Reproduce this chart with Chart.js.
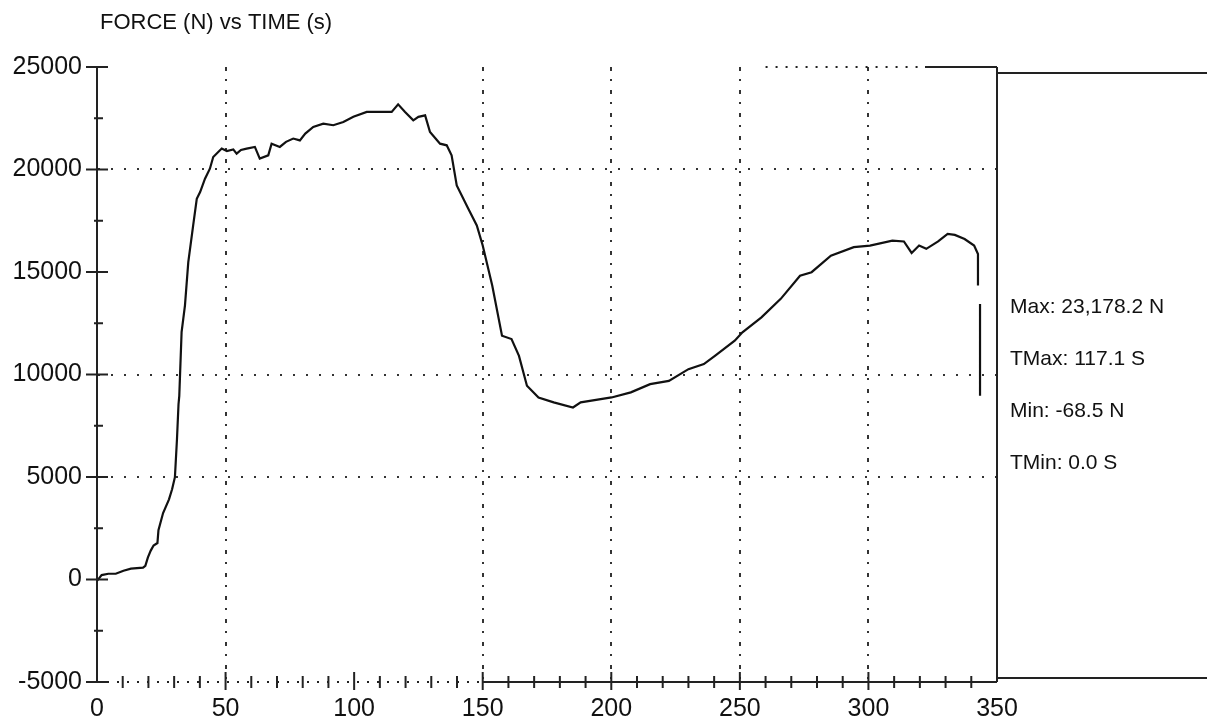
<!DOCTYPE html>
<html>
<head>
<meta charset="utf-8">
<script src="https://cdn.jsdelivr.net/npm/chart.js@4.4.0/dist/chart.umd.min.js"></script>
<style>
  html, body { margin: 0; padding: 0; background: #fff; }
</style>
</head>
<body>
<canvas id="grafico" width="1207" height="724"></canvas>
<script>
// valores
const tempos = [0, 1.8, 4.4, 7.3, 10.3, 13.2, 17.9, 18.8, 19.8, 20.9, 22.0, 23.5, 23.9, 25.7, 28.0,
  29.2, 30.3, 31.1, 31.7, 32.0, 32.9, 34.2, 35.5, 37.4, 38.8, 40.1, 42.0, 43.9, 45.2, 48.5,
  50.5, 53.0, 54.3, 56.0, 58.2, 61.4, 63.3, 66.6, 67.9, 71.1, 73.5, 76.3, 78.9, 81.0, 84.1,
  88.0, 91.9, 95.8, 99.7, 104.9, 110.1, 114.6, 117.1, 119.8, 123.0, 125.0, 127.6, 129.5, 133.4,
  136.0, 137.9, 139.9, 144.4, 147.7, 150.0, 153.7, 157.5, 161.2, 164.1, 167.2, 171.7, 177.6,
  185.1, 188.1, 200.1, 207.6, 215.1, 222.4, 230.0, 236.0, 240.3, 248.0, 251.0, 258.4, 265.9,
  273.4, 277.9, 285.4, 294.3, 300.6, 309.3, 313.8, 316.8, 319.7, 322.5, 327.1, 330.8, 333.6,
  337.4, 341.1, 342.6, 342.6, 343.0, 343.4, 343.4];
const forcas = [-68, 215, 280, 280, 430, 530, 580, 665, 1080, 1410, 1660, 1780, 2410, 3240, 3910,
  4400, 4990, 6840, 8550, 8960, 12070, 13360, 15480, 17270, 18570, 18900, 19550, 20040, 20610, 21020,
  20900, 20980, 20770, 20950, 21020, 21100, 20530, 20690, 21260, 21100, 21350, 21510, 21420, 21750, 22080,
  22240, 22160, 22320, 22570, 22810, 22810, 22810, 23178, 22810, 22400, 22570, 22640, 21830, 21260,
  21180, 20690, 19220, 18080, 17270, 16290, 14340, 11890, 11730, 10910, 9450, 8880, 8640,
  8390, 8640, 8880, 9130, 9530, 9690, 10260, 10510, 10910, 11650, 12060, 12790, 13690,
  14820, 14990, 15800, 16210, 16290, 16530, 16490, 15930, 16290, 16130, 16490, 16860, 16810,
  16610, 16290, 15880, 14340, null, 13440, 8960];

const xTicks = [0, 50, 100, 150, 200, 250, 300, 350];
const yTicks = [-5000, 0, 5000, 10000, 15000, 20000, 25000];
const gradeX = [50, 150, 200, 250, 300];
const gradeY = [5000, 10000, 20000];
const titulo = 'FORCE (N) vs TIME (s)';
const estatisticas = ['Max: 23,178.2 N', 'TMax: 117.1 S', 'Min: -68.5 N', 'TMin: 0.0 S'];

const fonte = '"Liberation Sans", Arial, sans-serif';

// ticks cruzando os eixos, moldura e textos laterais
const moldura = {
  id: 'moldura',
  afterDraw(chart) {
    const { ctx, chartArea: a, scales: { x, y } } = chart;
    ctx.save();
    ctx.strokeStyle = '#222';
    ctx.lineWidth = 2;
    ctx.beginPath();
    yTicks.forEach(v => {
      const p = y.getPixelForValue(v);
      ctx.moveTo(a.left - 11, p); ctx.lineTo(a.left + 11, p);
      if (v < 25000) {
        const m = y.getPixelForValue(v + 2500);
        ctx.moveTo(a.left - 3, m); ctx.lineTo(a.left + 6, m);
      }
    });
    for (let v = 10; v < 350; v += 10) {
      const p = x.getPixelForValue(v);
      if (v % 50 === 0) { ctx.moveTo(p, a.bottom - 10); ctx.lineTo(p, a.bottom + 8); }
      else { ctx.moveTo(p, a.bottom - 6); ctx.lineTo(p, a.bottom + 6); }
    }
    ctx.moveTo(x.getPixelForValue(150), a.bottom); ctx.lineTo(a.right, a.bottom);
    ctx.moveTo(a.right, a.top); ctx.lineTo(a.right, a.bottom);
    ctx.moveTo(x.getPixelForValue(322), a.top); ctx.lineTo(a.right, a.top);
    ctx.moveTo(a.right, a.top + 6); ctx.lineTo(chart.width, a.top + 6);
    ctx.moveTo(a.right, a.bottom - 4); ctx.lineTo(chart.width, a.bottom - 4);
    ctx.stroke();

    ctx.setLineDash([2, 8]);
    ctx.beginPath();
    ctx.moveTo(a.left, a.bottom); ctx.lineTo(x.getPixelForValue(150), a.bottom);
    ctx.moveTo(x.getPixelForValue(260), a.top); ctx.lineTo(x.getPixelForValue(322), a.top);
    ctx.stroke();
    ctx.setLineDash([]);

    ctx.fillStyle = '#111';
    ctx.textAlign = 'left';
    ctx.textBaseline = 'middle';
    ctx.font = '22px ' + fonte;
    ctx.fillText(titulo, a.left + 3, 23);
    ctx.font = '21px ' + fonte;
    estatisticas.forEach((s, i) => ctx.fillText(s, a.right + 13, 307 + i * 52));
    ctx.restore();
  }
};

new Chart(document.getElementById('grafico'), {
  type: 'line',
  data: {
    datasets: [{
      data: tempos.map((t, i) => ({ x: t, y: forcas[i] })),
      borderColor: '#111',
      borderWidth: 2.2,
      pointRadius: 0,
      tension: 0,
      spanGaps: false
    }]
  },
  options: {
    responsive: false,
    animation: false,
    layout: { padding: { top: 67, right: 210, left: 0, bottom: 0 } },
    plugins: { legend: { display: false }, tooltip: { enabled: false } },
    scales: {
      x: {
        type: 'linear',
        min: 0, max: 350,
        afterBuildTicks: s => { s.ticks = xTicks.map(v => ({ value: v })); },
        afterFit: s => { s.height = 42; },
        ticks: { font: { size: 25, family: fonte }, color: '#111', padding: 12, maxRotation: 0 },
        grid: {
          drawTicks: false,
          lineWidth: 2,
          color: c => gradeX.includes(c.tick.value) ? '#333' : 'transparent'
        },
        border: { display: false, dash: [4, 8, 2, 9] }
      },
      y: {
        min: -5000, max: 25000,
        afterBuildTicks: s => { s.ticks = yTicks.map(v => ({ value: v })); },
        afterFit: s => { s.width = 97; },
        ticks: { font: { size: 25, family: fonte }, color: '#111', padding: 15, callback: v => String(v) },
        grid: {
          drawTicks: false,
          lineWidth: 2,
          color: c => gradeY.includes(c.tick.value) ? '#333' : 'transparent'
        },
        border: { display: true, color: '#222', width: 2, dash: [2, 11] }
      }
    }
  },
  plugins: [moldura]
});
</script>
</body>
</html>
